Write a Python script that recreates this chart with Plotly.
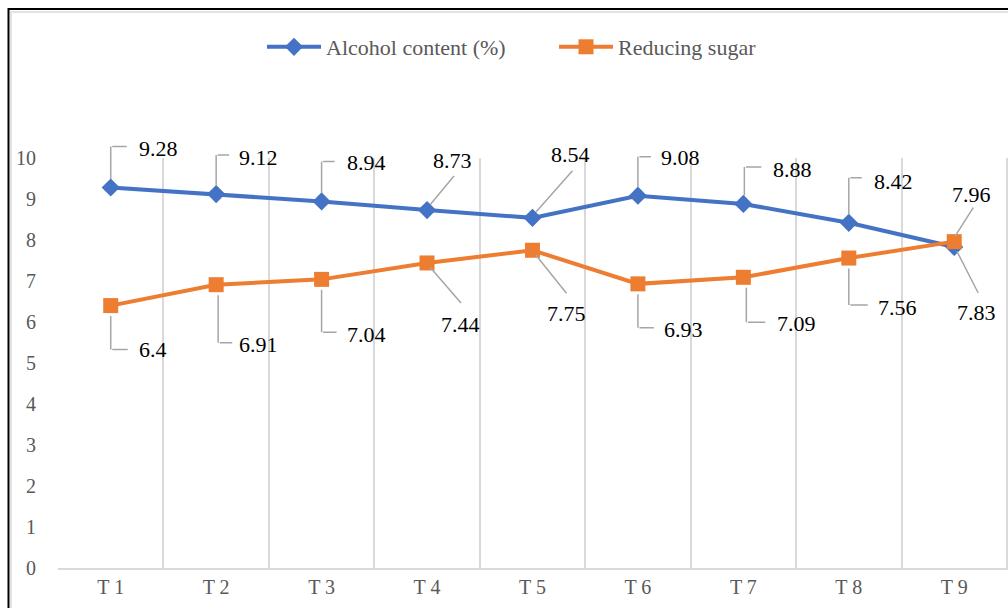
import plotly.graph_objects as go

categories = ["T 1", "T 2", "T 3", "T 4", "T 5", "T 6", "T 7", "T 8", "T 9"]
alcohol = [9.28, 9.12, 8.94, 8.73, 8.54, 9.08, 8.88, 8.42, 7.83]
sugar = [6.4, 6.91, 7.04, 7.44, 7.75, 6.93, 7.09, 7.56, 7.96]
y_ticks = list(range(0, 11))

BLUE = "#4472C4"
ORANGE = "#ED7D31"
GREY_TXT = "#595959"
GRID = "#D9D9D9"
LEADER = "#A6A6A6"
FONT = "'Liberation Serif', 'Times New Roman', Times, serif"

# label styling: (leader polyline in screen px relative to marker [x right, y down],
#                 text anchor, text dx, text dy)
alc_style = [
    ([(0, -7), (0, -41), (16, -41)], "left", 26, -39),
    ([(0, -7), (0, -39), (13, -39)], "left", 21, -37),
    ([(0, -7), (0, -40), (13, -40)], "left", 23, -39),
    ([(2, -4), (27, -34)], "center", 25, -50),
    ([(2, -4), (40, -47)], "center", 38, -63),
    ([(0, -7), (0, -39), (13, -39)], "left", 21, -38),
    ([(1, -7), (1, -37), (18, -37)], "left", 28, -34),
    ([(0, -7), (0, -45), (13, -45)], "left", 23, -41),
    ([(2, 3), (24, 46)], "center", 22, 66),
]
sug_style = [
    ([(0, 9), (0, 44), (17, 44)], "left", 26, 44),
    ([(2, 9), (2, 58), (16, 58)], "left", 21, 60),
    ([(0, 9), (0, 53), (15, 53)], "left", 23, 55),
    ([(2, 3), (34, 40)], "center", 33, 62),
    ([(2, 3), (34, 43)], "center", 34, 63),
    ([(0, 9), (0, 44), (16, 44)], "left", 24, 46),
    ([(3, 9), (3, 45), (22, 45)], "left", 32, 46),
    ([(0, 9), (0, 47), (19, 47)], "left", 27, 49),
    ([(0, -4), (19, -34)], "center", 17, -47),
]

fig = go.Figure()
fig.add_trace(go.Scatter(
    x=categories, y=alcohol, name="Alcohol content (%)", mode="lines+markers",
    line=dict(color=BLUE, width=4),
    marker=dict(symbol="diamond", size=14, color=BLUE),
))
fig.add_trace(go.Scatter(
    x=categories, y=sugar, name="Reducing sugar", mode="lines+markers",
    line=dict(color=ORANGE, width=4),
    marker=dict(symbol="square", size=15, color=ORANGE),
))

annotations = []
for series, styles in ((alcohol, alc_style), (sugar, sug_style)):
    for cat, val, (pts, anchor, dx, dy) in zip(categories, series, styles):
        # leader line segments, anchored at the data point
        for (ax0, ay0), (bx, by) in zip(pts[:-1], pts[1:]):
            annotations.append(dict(
                x=cat, y=val, xref="x", yref="y", text="", showarrow=True,
                arrowhead=0, arrowwidth=1.5, arrowcolor=LEADER, standoff=0,
                startstandoff=0, xshift=bx, yshift=-by, ax=ax0 - bx, ay=ay0 - by,
            ))
        annotations.append(dict(
            x=cat, y=val, xref="x", yref="y", text=f"{val:g}", showarrow=False,
            xanchor=anchor, yanchor="middle", xshift=dx, yshift=-dy,
            font=dict(family=FONT, size=22, color="#000000"),
        ))

# chart frame
L, T, W, H = 58, 158, 950, 410
def px_x(v):
    return (v - L) / W
def px_y(v):
    return (T + H - v) / H

shapes = [
    dict(type="rect", xref="paper", yref="paper",
         x0=px_x(11), x1=1.1, y0=-0.3, y1=px_y(12),
         line=dict(color="#E3E3E3", width=2), layer="below"),
    dict(type="rect", xref="paper", yref="paper",
         x0=px_x(8.5), x1=1.1, y0=-0.3, y1=px_y(9),
         line=dict(color="#000000", width=2), layer="above"),
]

fig.update_layout(
    width=1008, height=608,
    margin=dict(l=L, r=0, t=T, b=608 - T - H),
    paper_bgcolor="white", plot_bgcolor="white",
    font=dict(family=FONT, color=GREY_TXT),
    showlegend=True,
    legend=dict(orientation="h", x=px_x(262), xanchor="left", y=px_y(47), yanchor="middle",
                font=dict(family=FONT, size=22, color=GREY_TXT), itemwidth=54,
                entrywidth=223, bgcolor="rgba(0,0,0,0)"),
    shapes=shapes, annotations=annotations,
    xaxis=dict(type="category", tickson="boundaries", range=[-0.5, 8.51],
               showgrid=True, gridcolor=GRID, gridwidth=2,
               showline=True, linecolor=GRID, linewidth=2,
               ticks="outside", ticklen=11, tickcolor="rgba(0,0,0,0)",
               tickfont=dict(family=FONT, size=20, color=GREY_TXT)),
    yaxis=dict(range=[0, 10], tickvals=y_ticks, showgrid=False, zeroline=False,
               showline=False, ticks="outside", ticklen=17, tickcolor="rgba(0,0,0,0)",
               tickfont=dict(family=FONT, size=20, color=GREY_TXT)),
)

fig.write_html("out.html")
